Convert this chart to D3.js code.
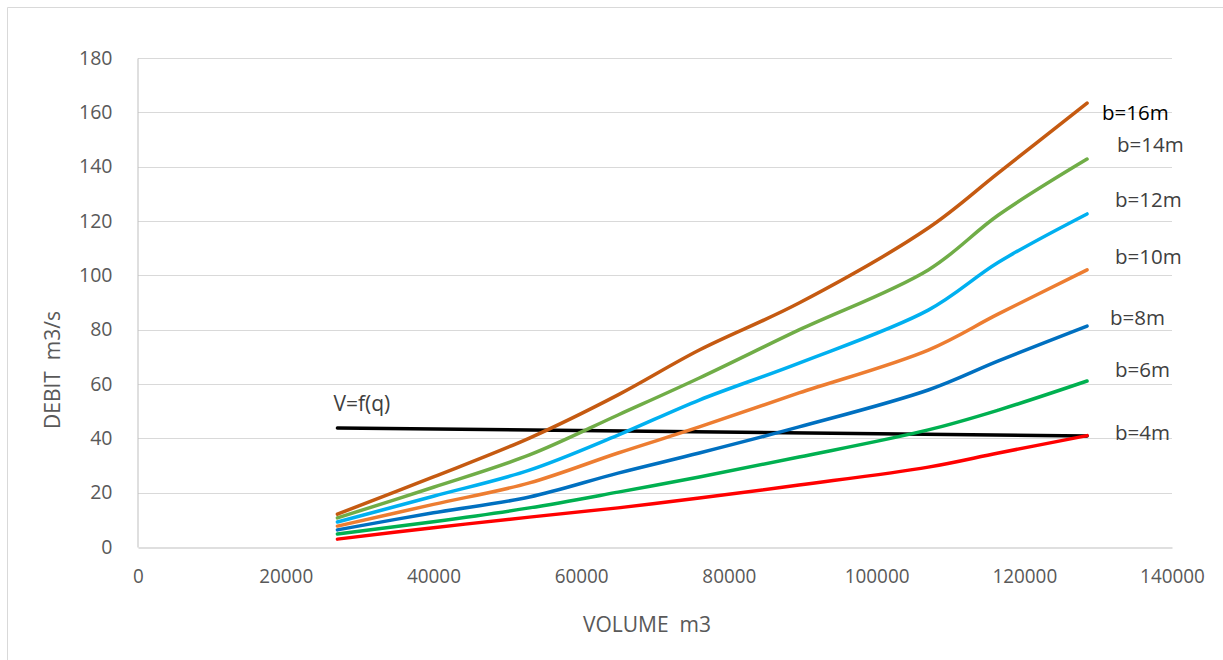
<!DOCTYPE html>
<html>
<head>
<meta charset="utf-8">
<script src="https://cdn.jsdelivr.net/npm/d3@7"></script>
<style>
  html, body { margin: 0; padding: 0; background: #fff; }
  svg { display: block; }
  text { font-family: "Open Sans", "Noto Sans", sans-serif; white-space: pre; }
</style>
</head>
<body>
<svg id="chart" width="1223" height="660"></svg>
<script>
// Volume (m3) at which each discharge was computed
const volumes = [27000, 40000, 53000, 65000, 76000, 89500, 107000, 116500, 128500];

// Discharge (m3/s) for each weir width b
const b4  = [2.9, 7.1, 11.0, 14.4, 18.0, 22.8, 29.4, 34.6, 41.0];
const b6  = [4.8, 9.3, 14.4, 20.2, 25.8, 33.1, 43.1, 50.4, 61.1];
const b8  = [6.3, 12.6, 18.4, 27.2, 34.6, 44.2, 57.8, 68.5, 81.3];
const b10 = [7.7, 15.7, 23.6, 34.6, 44.2, 56.7, 72.5, 85.8, 102.0];
const b12 = [9.2, 18.7, 28.3, 41.2, 54.1, 67.7, 87.2, 104.8, 122.6];
const b14 = [10.7, 22.0, 33.9, 48.6, 62.2, 79.9, 102.0, 122.2, 142.8];
const b16 = [12.1, 25.8, 40.1, 56.0, 72.5, 89.8, 117.4, 137.7, 163.4];

// V = f(q) reference curve
const vfqVolumes = [27000, 128500];
const vfqValues  = [43.8, 40.9];

const seriesNames = ["b=4m", "b=6m", "b=8m", "b=10m", "b=12m", "b=14m", "b=16m"];
const seriesValues = [b4, b6, b8, b10, b12, b14, b16];
const seriesColors = ["#FF0000", "#00B050", "#0070C0", "#ED7D31", "#00B0F0", "#70AD47", "#C55A11"];

const xTicks = [0, 20000, 40000, 60000, 80000, 100000, 120000, 140000];
const yTicks = [0, 20, 40, 60, 80, 100, 120, 140, 160, 180];

const svg = d3.select("#chart");

// outer chart frame
svg.append("path")
  .attr("d", "M7.5,660 V7.5 H1223")
  .attr("fill", "none")
  .attr("stroke", "#D9D9D9")
  .attr("stroke-width", 1);

const plot = { left: 138, right: 1172, top: 58, bottom: 547 };

const x = d3.scaleLinear().domain([0, 140000]).range([plot.left, plot.right]);
const y = d3.scaleLinear().domain([0, 180]).range([plot.bottom, plot.top]);

// horizontal gridlines
svg.append("g")
  .selectAll("line")
  .data(yTicks.filter(d => d > 0))
  .join("line")
  .attr("x1", plot.left).attr("x2", plot.right)
  .attr("y1", d => Math.round(y(d)) + 0.5).attr("y2", d => Math.round(y(d)) + 0.5)
  .attr("stroke", "#D9D9D9").attr("stroke-width", 1);

// y axis
const yAxis = svg.append("g")
  .attr("transform", `translate(${plot.left - 0.5},0)`)
  .call(d3.axisLeft(y).tickValues(yTicks).tickSize(0).tickPadding(25));
yAxis.select(".domain").attr("stroke", "#BFBFBF");
yAxis.selectAll("text")
  .attr("fill", "#595959").attr("font-size", 19.5);

// x axis
const xAxis = svg.append("g")
  .attr("transform", `translate(0,${plot.bottom + 0.5})`)
  .call(d3.axisBottom(x).tickValues(xTicks).tickFormat(d3.format("d")).tickSize(0).tickPadding(22));
xAxis.select(".domain").attr("stroke", "#BFBFBF");
xAxis.selectAll("text")
  .attr("fill", "#595959").attr("font-size", 19.5)
  .attr("textLength", d => String(d).length * 10.8)
  .attr("lengthAdjust", "spacingAndGlyphs");

// axis titles
svg.append("text")
  .attr("transform", "translate(60,370) rotate(-90)")
  .attr("text-anchor", "middle")
  .attr("fill", "#595959").attr("font-size", 21)
  .text("DEBIT  m3/s");

svg.append("text")
  .attr("x", 647).attr("y", 632)
  .attr("text-anchor", "middle")
  .attr("fill", "#595959").attr("font-size", 21)
  .text("VOLUME  m3");

const line = d3.line()
  .x(d => x(d[0]))
  .y(d => y(d[1]))
  .curve(d3.curveCatmullRom.alpha(0.5));

// V = f(q)
svg.append("path")
  .datum(vfqVolumes.map((v, i) => [v, vfqValues[i]]))
  .attr("d", line)
  .attr("fill", "none")
  .attr("stroke", "#000")
  .attr("stroke-width", 3.5)
  .attr("stroke-linecap", "round");

svg.append("text")
  .attr("x", x(vfqVolumes[0]) - 4).attr("y", y(vfqValues[0]) - 17)
  .attr("fill", "#404040").attr("font-size", 21)
  .text("V=f(q)");

// discharge curves, one per width
seriesValues.forEach((vals, i) => {
  svg.append("path")
    .datum(volumes.map((v, j) => [v, vals[j]]))
    .attr("d", line)
    .attr("fill", "none")
    .attr("stroke", seriesColors[i])
    .attr("stroke-width", 3.5)
    .attr("stroke-linecap", "round")
    .attr("stroke-linejoin", "round");
});

// end-of-curve labels
const labelOffsets = [
  { dx: 28, dy: -3 },  // b=4m
  { dx: 28, dy: -11 }, // b=6m
  { dx: 23, dy: -8 },  // b=8m
  { dx: 28, dy: -13 }, // b=10m
  { dx: 28, dy: -14 }, // b=12m
  { dx: 30, dy: -14 }, // b=14m
  { dx: 15, dy: 10 }   // b=16m
];
seriesNames.forEach((name, i) => {
  const last = seriesValues[i][seriesValues[i].length - 1];
  svg.append("text")
    .attr("x", x(volumes[volumes.length - 1]) + labelOffsets[i].dx)
    .attr("y", y(last) + labelOffsets[i].dy)
    .attr("dy", "0.35em")
    .attr("fill", i === seriesNames.length - 1 ? "#000" : "#404040")
    .attr("font-size", 20.5)
    .text(name);
});
</script>
</body>
</html>
